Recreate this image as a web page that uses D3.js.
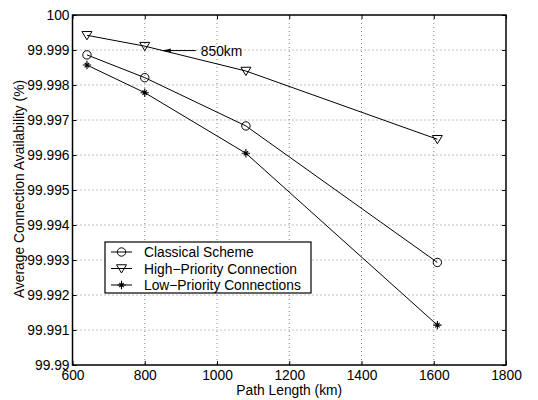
<!DOCTYPE html>
<html>
<head>
<meta charset="utf-8">
<script src="https://cdn.jsdelivr.net/npm/d3@7"></script>
<style>
  body { margin: 0; background: #fff; }
  text { font-family: "Liberation Sans", Arial, Helvetica, sans-serif; }
</style>
</head>
<body>
<div id="chart"></div>
<script>
// path lengths (km)
const pathLengths = [640, 800, 1080, 1610];
// availability (%)
const classical = [99.99886, 99.99821, 99.99683, 99.99293];
const highPriority = [99.99942, 99.99911, 99.99840, 99.99645];
const lowPriority = [99.99857, 99.99778, 99.99605, 99.99114];

const seriesNames = ["Classical Scheme", "High\u2212Priority Connection", "Low\u2212Priority Connections"];
const seriesMarkers = ["circle", "triangle", "star"];
const xTicks = [600, 800, 1000, 1200, 1400, 1600, 1800];
const yTicks = [99.99, 99.991, 99.992, 99.993, 99.994, 99.995, 99.996, 99.997, 99.998, 99.999, 100];
const yTickLabels = ["99.99", "99.991", "99.992", "99.993", "99.994", "99.995", "99.996", "99.997", "99.998", "99.999", "100"];

// annotation: arrow points at 850 km on the high-priority line
const annotKm = 850;
const annotText = "850km";

const width = 538, height = 400;
const margin = {top: 15, right: 32, bottom: 35, left: 72.5};
const fs = 13.8;

const x = d3.scaleLinear()
    .domain([600, 1800])
    .range([margin.left, width - margin.right]);

const y = d3.scaleLinear()
    .domain([99.99, 100])
    .range([height - margin.bottom, margin.top]);

const svg = d3.select("#chart")
    .append("svg")
    .attr("width", width)
    .attr("height", height);

// grid
const grid = svg.append("g")
    .attr("stroke", "#555")
    .attr("stroke-width", 0.7)
    .attr("stroke-dasharray", "1,3");

grid.selectAll(".gx")
    .data(xTicks.slice(1, -1))
    .join("line")
    .attr("x1", d => x(d)).attr("x2", d => x(d))
    .attr("y1", y(100)).attr("y2", y(99.99));

grid.selectAll(".gy")
    .data(yTicks.slice(1, -1))
    .join("line")
    .attr("x1", x(600)).attr("x2", x(1800))
    .attr("y1", d => y(d)).attr("y2", d => y(d));

// axes
const xAxis = g => g
    .attr("transform", `translate(0,${y(99.99)})`)
    .call(d3.axisBottom(x).tickValues(xTicks).tickSize(-4).tickPadding(5).tickFormat(d3.format("d")))
    .call(g => g.select(".domain").remove())
    .call(g => g.selectAll("text").attr("font-size", fs).attr("fill", "#000"));

const yAxis = g => g
    .attr("transform", `translate(${margin.left},0)`)
    .call(d3.axisLeft(y).tickValues(yTicks).tickSize(-4).tickPadding(3)
        .tickFormat((d, i) => yTickLabels[i]))
    .call(g => g.select(".domain").remove())
    .call(g => g.selectAll("text").attr("font-size", fs).attr("fill", "#000"));

svg.append("g").call(xAxis);
svg.append("g").call(yAxis);

// ticks on top and right
svg.append("g")
    .attr("transform", `translate(0,${y(100)})`)
    .call(d3.axisTop(x).tickValues(xTicks).tickSize(-4).tickFormat(""))
    .call(g => g.select(".domain").remove());
svg.append("g")
    .attr("transform", `translate(${x(1800)},0)`)
    .call(d3.axisRight(y).tickValues(yTicks).tickSize(-4).tickFormat(""))
    .call(g => g.select(".domain").remove());

// frame
svg.append("rect")
    .attr("x", x(600)).attr("y", y(100))
    .attr("width", x(1800) - x(600))
    .attr("height", y(99.99) - y(100))
    .attr("fill", "none")
    .attr("stroke", "#000")
    .attr("stroke-width", 1.5);

// axis labels
svg.append("text")
    .attr("x", (x(600) + x(1800)) / 2)
    .attr("y", height - 5)
    .attr("text-anchor", "middle")
    .attr("font-size", fs)
    .text("Path Length (km)");

svg.append("text")
    .attr("transform", `translate(24,${(y(100) + y(99.99)) / 2 - 1}) rotate(-90)`)
    .attr("text-anchor", "middle")
    .attr("font-size", fs)
    .text("Average Connection Availability (%)");

// markers
function drawMarker(g, type, cx, cy) {
    if (type === "circle") {
        g.append("circle").attr("cx", cx).attr("cy", cy).attr("r", 4.2)
            .attr("fill", "none").attr("stroke", "#000").attr("stroke-width", 1);
    } else if (type === "triangle") {
        const s = 5;
        g.append("path")
            .attr("d", `M${cx - s},${cy - s * 0.75}L${cx + s},${cy - s * 0.75}L${cx},${cy + s * 0.9}Z`)
            .attr("fill", "none").attr("stroke", "#000").attr("stroke-width", 1);
    } else {
        const s = 4.2;
        const d = [0, 45, 90, 135].map(a => {
            const r = a * Math.PI / 180;
            const k = (a % 90 === 0) ? 1 : 0.75;
            return `M${cx - s * k * Math.sin(r)},${cy - s * k * Math.cos(r)}L${cx + s * k * Math.sin(r)},${cy + s * k * Math.cos(r)}`;
        }).join("");
        g.append("path").attr("d", d)
            .attr("fill", "none").attr("stroke", "#000").attr("stroke-width", 1.1);
    }
}

const allSeries = [classical, highPriority, lowPriority];

const line = d3.line()
    .x((d, i) => x(pathLengths[i]))
    .y(d => y(d));

allSeries.forEach((vals, k) => {
    svg.append("path")
        .datum(vals)
        .attr("fill", "none")
        .attr("stroke", "#000")
        .attr("stroke-width", 1)
        .attr("d", line);
    const mg = svg.append("g");
    vals.forEach((v, i) => drawMarker(mg, seriesMarkers[k], x(pathLengths[i]), y(v)));
});

// annotation arrow
const annotY = d3.scaleLinear().domain([pathLengths[1], pathLengths[2]]).range([highPriority[1], highPriority[2]])(annotKm);
const ax = x(annotKm), ay = y(annotY);
svg.append("line")
    .attr("x1", ax).attr("y1", ay)
    .attr("x2", ax + 33).attr("y2", ay)
    .attr("stroke", "#000").attr("stroke-width", 1);
svg.append("path")
    .attr("d", `M${ax},${ay}L${ax + 8},${ay - 2}L${ax + 8},${ay + 2}Z`)
    .attr("fill", "#000");
svg.append("text")
    .attr("x", ax + 38)
    .attr("y", ay + 5)
    .attr("font-size", fs)
    .text(annotText);

// legend
const lg = svg.append("g");
lg.append("rect")
    .attr("x", 105).attr("y", 242)
    .attr("width", 206).attr("height", 51)
    .attr("fill", "#fff")
    .attr("stroke", "#000")
    .attr("stroke-width", 1.2);

seriesNames.forEach((name, k) => {
    const ly = 252 + k * 16.5;
    lg.append("line")
        .attr("x1", 111).attr("x2", 132)
        .attr("y1", ly).attr("y2", ly)
        .attr("stroke", "#000").attr("stroke-width", 1);
    drawMarker(lg, seriesMarkers[k], 121.5, ly);
    lg.append("text")
        .attr("x", 144)
        .attr("y", ly + 5)
        .attr("font-size", fs)
        .text(name);
});
</script>
</body>
</html>
